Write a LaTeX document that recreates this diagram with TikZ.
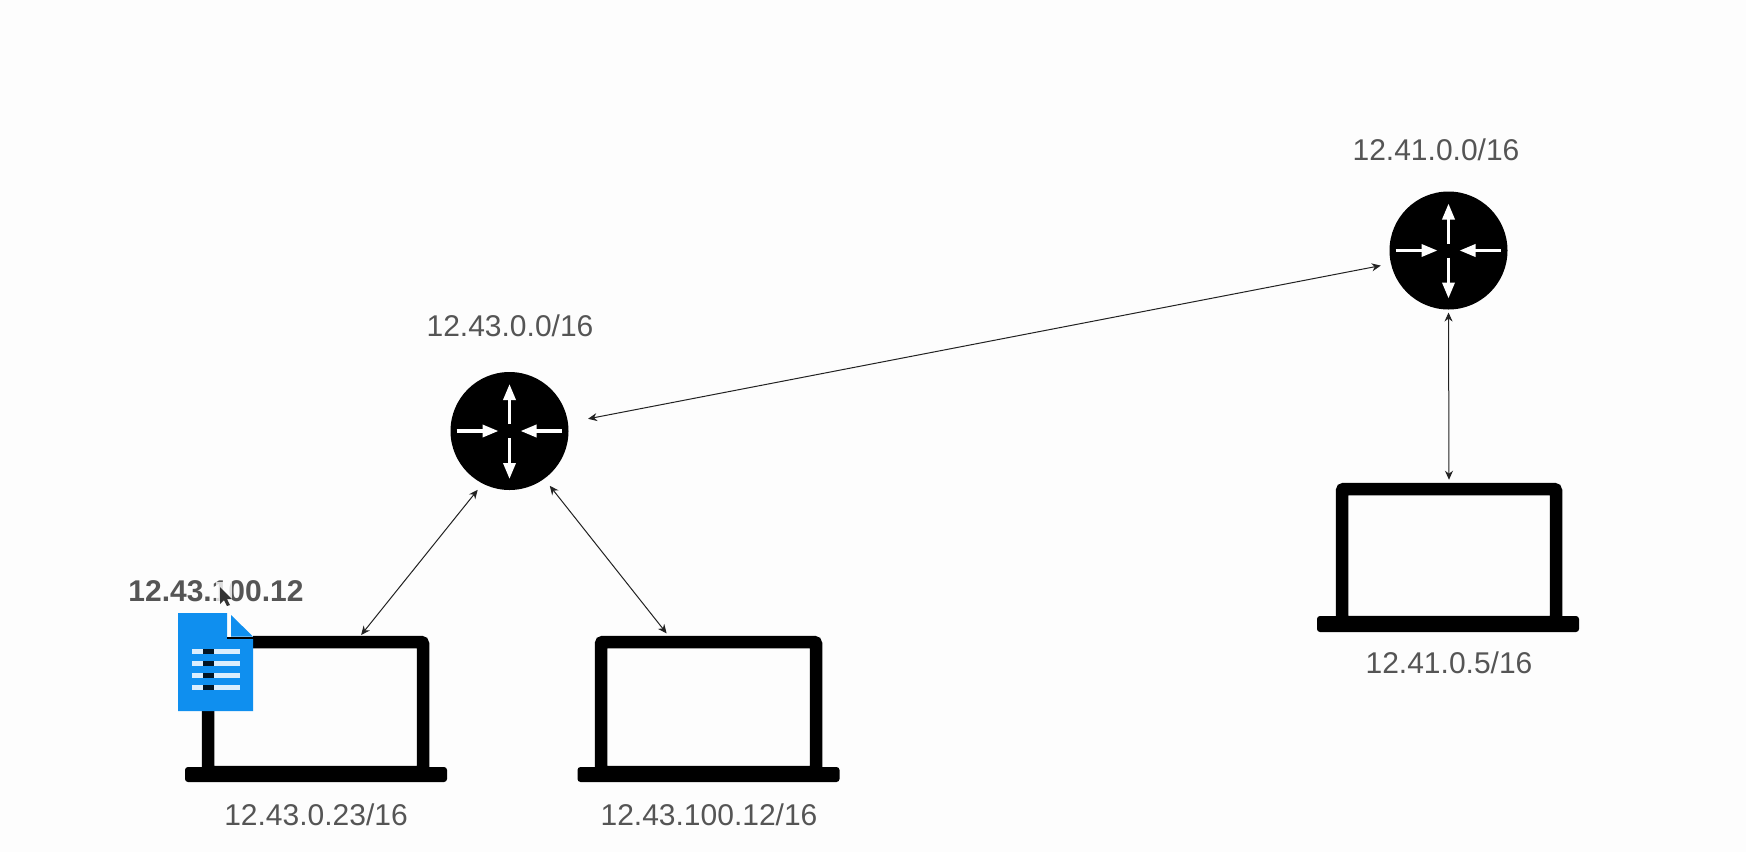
\documentclass[tikz,border=0pt]{standalone}
\usepackage{fontspec}
\setmainfont{Liberation Sans}
\usetikzlibrary{arrows.meta}
\definecolor{labelgrey}{HTML}{555555}
\definecolor{docblue}{HTML}{0F8FEF}
\definecolor{linkink}{HTML}{222222}
\definecolor{paper}{HTML}{FDFDFD}
\tikzset{
  routerbody/.style={circle,fill=black,minimum size=118pt,inner sep=0pt,outer sep=0pt},
  screenbox/.style={rectangle,draw=black,fill=paper,line width=12.5pt,rounded corners=2pt,inner sep=0pt},
  basebar/.style={rectangle,fill=black,rounded corners=3pt,inner sep=0pt,outer sep=0pt,minimum width=262pt},
  iplabel/.style={text=labelgrey,inner sep=0pt,font=\fontsize{30}{36}\selectfont},
  link/.style={linkink,line width=1pt,{Stealth[length=9pt,width=8pt]}-{Stealth[length=9pt,width=8pt]}},
  glypharrow/.style={white,line width=3.4pt,-{Triangle[length=16pt,width=12pt]}},
  glyph/.pic={
    \draw[glypharrow] (0,-7) -- (0,-47);
    \draw[glypharrow] (0,7) -- (0,48);
    \draw[glypharrow] (-53,0) -- (-11,0);
    \draw[glypharrow] (52,0) -- (11,0);
  }
}
\begin{document}
\begin{tikzpicture}[x=1pt,y=-1pt]
\useasboundingbox[fill=paper] (0,0) rectangle (1746,852);

% laptops
\node[screenbox,minimum width=215pt,minimum height=130pt] (lap1) at (315.5,707) {};
\node[basebar,minimum height=15pt] (base1) at (316,774.5) {};
\node[screenbox,minimum width=215pt,minimum height=130pt] (lap2) at (708.5,707) {};
\node[basebar,minimum height=15pt] (base2) at (708.5,774.5) {};
\node[screenbox,minimum width=214pt,minimum height=133pt] (lap3) at (1449,555.5) {};
\node[basebar,minimum height=16pt] (base3) at (1448,624) {};

% routers
\node[routerbody] (r1) at (509.5,431) {};
\pic at (r1) {glyph};
\node[routerbody] (r2) at (1448.5,250.5) {};
\pic at (r2) {glyph};

% connectors
\draw[link,shorten <=80pt,shorten >=69pt] ([yshift=-3pt]r1.center) -- ([yshift=-2pt]r2.center);
\draw[link,shorten <=3pt,shorten >=3pt] (r2.south) -- (lap3.north);
\draw[link,shorten <=8pt,shorten >=1pt] (r1.243) -- ([xshift=45pt]lap1.north);
\draw[link,shorten <=9pt,shorten >=3pt] (r1.306) -- ([xshift=-40pt]lap2.north);

% labels
\node[iplabel] (t1) at (510,326) {12.43.0.0/16};
\node[iplabel] (t2) at (1436,150) {12.41.0.0/16};
\node[iplabel] (t3) at (316,815) {12.43.0.23/16};
\node[iplabel] (t4) at (709,815) {12.43.100.12/16};
\node[iplabel] (t5) at (1449,663) {12.41.0.5/16};
\node[iplabel,font=\fontsize{30}{36}\selectfont\bfseries] (t6) at (216,591) {12.43.100.12};

% document icon
\fill[paper] (226,613) rectangle (253,637);
\fill[docblue] (178,613) -- (227,613) -- (227,639) -- (253,639) -- (253,711) -- (178,711) -- cycle;
\fill[black] (227,637) rectangle (253,639);
\fill[docblue] (231,615) -- (253,636.5) -- (231,636.5) -- cycle;
\foreach \yy in {651.5,663.5,675.5,687.5}{
  \fill[white!85!docblue] (192,\yy-2.5) rectangle (240,\yy+2.5);
  \fill[black!85!docblue] (203,\yy-2.5) rectangle (214,\yy+2.5);
}

% mouse pointer
\fill[white!70!paper,opacity=.8] (216,582) rectangle (232,608);
\fill[black!80] (220,587) -- (220,604) -- (224,600) -- (227,606) -- (230,605) -- (227,599) -- (232,599) -- cycle;
\end{tikzpicture}
\end{document}
